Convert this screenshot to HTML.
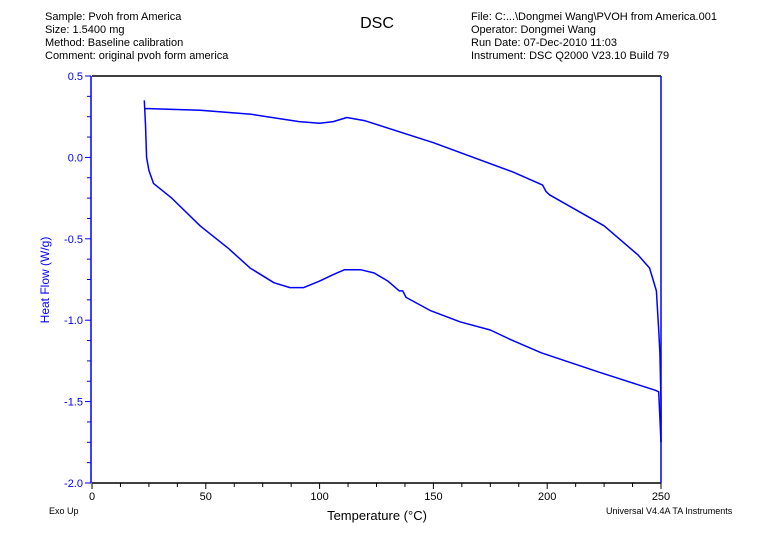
<!DOCTYPE html>
<html><head><meta charset="utf-8"><style>
body{margin:0;background:#fff;}
svg{display:block;font-family:"Liberation Sans",Arial,sans-serif;}
</style></head><body>
<svg id="chart" width="771" height="543" viewBox="0 0 771 543" xmlns="http://www.w3.org/2000/svg">
<g font-size="11" fill="#000">
<text x="45" y="20">Sample: Pvoh from America</text>
<text x="45" y="33">Size:  1.5400 mg</text>
<text x="45" y="46">Method: Baseline calibration</text>
<text x="45" y="59">Comment: original pvoh form america</text>
</g>
<text x="377" y="28" font-size="16" text-anchor="middle">DSC</text>
<g font-size="11" fill="#000">
<text x="471" y="20">File: C:...\Dongmei Wang\PVOH from America.001</text>
<text x="471" y="33">Operator: Dongmei Wang</text>
<text x="471" y="46">Run Date: 07-Dec-2010 11:03</text>
<text x="471" y="59">Instrument: DSC Q2000 V23.10 Build 79</text>
</g>
<g id="axes"></g>
<g id="series"></g>
<text transform="translate(49,280) rotate(-90)" font-size="12" fill="#0000ff" text-anchor="middle">Heat Flow (W/g)</text>
<text x="377" y="520" font-size="13" text-anchor="middle">Temperature (°C)</text>
<text x="49" y="514" font-size="9">Exo Up</text>
<text x="606" y="514" font-size="9">Universal V4.4A TA Instruments</text>
</svg>
<script>
const xTicks=[0,50,100,150,200,250];
const yTicks=[0.5,0.0,-0.5,-1.0,-1.5,-2.0];
const yTickLabels=["0.5","0.0","-0.5","-1.0","-1.5","-2.0"];
const upperT=[23,25,47.5,70,91,100,106,112,120,150,185,198,199.5,201,225,240,245,248,249,249.5,250,250];
const upperHF=[0.30,0.30,0.29,0.265,0.22,0.21,0.22,0.245,0.225,0.09,-0.09,-0.17,-0.21,-0.23,-0.42,-0.6,-0.68,-0.82,-1.06,-1.2,-1.5,-1.75];
const lowerT=[23,23.5,24,25,27,35,47.5,60,69.5,80,87,93,100,106,111,118,124,130,135,136.5,138,148.5,161.7,175,184,197.4,223,247.4,249,249.5,250];
const lowerHF=[0.35,0.2,0.0,-0.08,-0.16,-0.25,-0.42,-0.56,-0.68,-0.77,-0.80,-0.80,-0.76,-0.72,-0.69,-0.69,-0.71,-0.76,-0.82,-0.82,-0.86,-0.94,-1.01,-1.06,-1.12,-1.20,-1.32,-1.43,-1.44,-1.6,-1.75];
const X0=92,X1=661,Y0=483,Y1=76;
const xs=t=>X0+(t-0)/(250-0)*(X1-X0);
const ys=v=>Y0-(v-(-2))/(0.5-(-2))*(Y0-Y1);
const NS="http://www.w3.org/2000/svg";
const ax=document.getElementById('axes'),se=document.getElementById('series');
function mk(tag,at,parent){const e=document.createElementNS(NS,tag);for(const k in at)e.setAttribute(k,at[k]);parent.appendChild(e);return e;}
let e;
e=mk('line',{x1:X0,y1:Y1,x2:X1,y2:Y1,stroke:'#000','stroke-width':1.5},ax);


e=mk('line',{x1:X0,y1:Y0,x2:X1,y2:Y0,stroke:'#000','stroke-width':1.5},ax);


e=mk('line',{x1:X0-1,y1:Y1,x2:X0-1,y2:Y0,stroke:'#0000ff','stroke-width':1.5},ax);


e=mk('line',{x1:X1,y1:Y1,x2:X1,y2:Y0,stroke:'#0000ff','stroke-width':1.5},ax);


for(let t=0;t<=250.01;t+=12.5){const maj=Math.abs(t%50)<0.01;
 e=mk('line',{x1:xs(t),y1:Y0,x2:xs(t),y2:Y0+(maj?6:4),stroke:'#000','stroke-width':1},ax);
 
 }
xTicks.forEach(t=>{e=mk('text',{x:xs(t),y:Y0+17,'font-size':11,'text-anchor':'middle'},ax);e.textContent=t;
 
 });
for(let v=-2;v<=0.501;v+=0.125){const maj=Math.abs((v*2)-Math.round(v*2))<0.01;
 e=mk('line',{x1:X0-1,y1:ys(v),x2:X0-1-(maj?6:4),y2:ys(v),stroke:'#0000ff','stroke-width':1},ax);
 
 }
yTicks.forEach((v,i)=>{e=mk('text',{x:X0-9,y:ys(v)+4,'font-size':11,'text-anchor':'end',fill:'#0000ff'},ax);e.textContent=yTickLabels[i];
 
 });
function path(T,H){return T.map((t,i)=>(i?'L':'M')+xs(t).toFixed(1)+','+ys(H[i]).toFixed(1)).join(' ');}
e=mk('path',{d:path(upperT,upperHF),fill:'none',stroke:'#0000ff','stroke-width':1.5,'stroke-linejoin':'round'},se);


e=mk('path',{d:path(lowerT,lowerHF),fill:'none',stroke:'#0000ff','stroke-width':1.5,'stroke-linejoin':'round'},se);


</script>
</body></html>
